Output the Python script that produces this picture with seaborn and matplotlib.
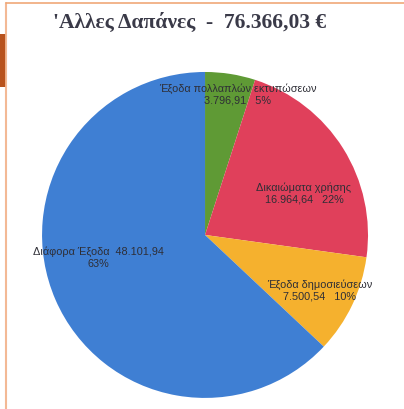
import numpy as np
import matplotlib
matplotlib.use("Agg")
import matplotlib.pyplot as plt
import seaborn as sns
from matplotlib.lines import Line2D

# -----------------------------
# DATA
# -----------------------------
categories = ["Έξοδα πολλαπλών εκτυπώσεων", "Δικαιώματα χρήσης",
              "Έξοδα δημοσιεύσεων", "Διάφορα Έξοδα"]
values = [3796.91, 16964.64, 7500.54, 48101.94]
value_labels = ["3.796,91", "16.964,64", "7.500,54", "48.101,94"]
pct_labels = ["5%", "22%", "10%", "63%"]
title_text = "'Αλλες Δαπάνες  -  76.366,03 €"

colors = ["#5f9a35", "#e0405b", "#f5b12e", "#3f7fd3"]
label_radius = [0.89, 0.66, 0.78, 0.67]
label_shift = [-4, -9, 0, -12]  # degrees

sns.set_theme(style="white")
plt.rcParams["font.family"] = ["Liberation Sans", "DejaVu Sans"]

fig = plt.figure(figsize=(4.04, 4.10), dpi=100)
fig.patch.set_facecolor("white")

ax = fig.add_axes([0.104, 0.027, 0.807, 0.795])
wedges, _ = ax.pie(values, colors=colors, startangle=90, counterclock=False,
                   radius=1, wedgeprops=dict(linewidth=0))
ax.set_xlim(-1, 1)
ax.set_ylim(-1, 1)
ax.set_aspect("equal")
ax.axis("off")

for i, w in enumerate(wedges):
    mid = np.deg2rad((w.theta1 + w.theta2) / 2 + label_shift[i])
    r = label_radius[i]
    x, y = r * np.cos(mid), r * np.sin(mid)
    if i == 3:
        txt = f"{categories[i]}  {value_labels[i]}\n{pct_labels[i]}"
    else:
        txt = f"{categories[i]}\n{value_labels[i]}   {pct_labels[i]}"
    ax.text(x, y, txt, ha="center", va="center", fontsize=7.8,
            color="#2e2e36", linespacing=1.2, clip_on=False)

fig.text(0.47, 0.945, title_text, ha="center", va="center", fontsize=15.5,
         fontweight="bold", color="#3a3a48",
         family=["Liberation Serif", "DejaVu Serif"])

# frame lines from the scanned slide
fig.add_artist(Line2D([0.015, 0.015], [0.0, 0.99], color="#f3b995", lw=1.5))
fig.add_artist(Line2D([0.015, 1.0], [0.99, 0.99], color="#f0a878", lw=1.2))
fig.add_artist(Line2D([0.006, 0.006], [0.785, 0.915], color="#b8521c", lw=4.5,
                      solid_capstyle="butt"))

fig.savefig("out.png", dpi=100, facecolor="white")
